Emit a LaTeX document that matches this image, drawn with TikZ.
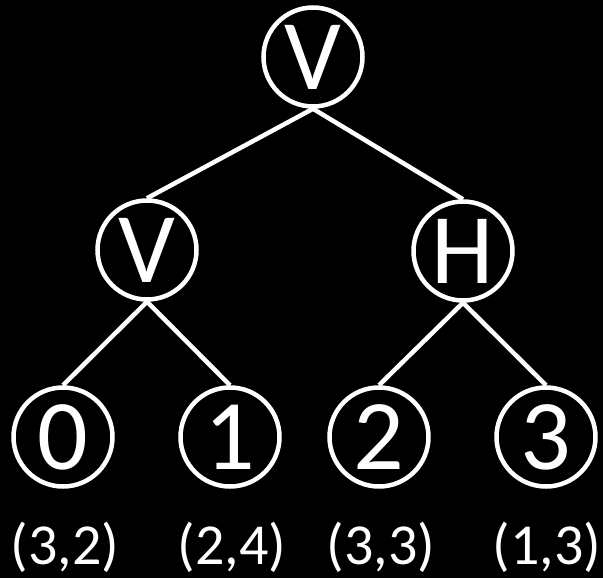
\documentclass[tikz,border=0pt]{standalone}
\usepackage{fontspec}
\setmainfont{Carlito}
\begin{document}
\begin{tikzpicture}[x=1pt,y=-1pt,
  treenode/.style={circle,draw=white,line width=4.5pt,minimum size=99pt,inner sep=0pt,
    text=white,font=\fontsize{100}{100}\selectfont},
  edge/.style={draw=white,line width=4.5pt},
  sizelabel/.style={text=white,inner sep=0pt,font=\fontsize{58}{58}\selectfont}]
  % black background fixes the page size
  \fill[black] (0,0) rectangle (603,578);
  \useasboundingbox (0,0) rectangle (603,578);

  \node[treenode] (r)  at (313,57)  {V};
  \node[treenode] (l)  at (147,250) {V};
  \node[treenode] (h)  at (463,251) {H};
  \node[treenode] (n0) at (63,437)  {0};
  \node[treenode] (n1) at (230,437) {1};
  \node[treenode] (n2) at (379,437) {2};
  \node[treenode] (n3) at (546,437) {3};

  \draw[edge] (r.south) -- (l.north);
  \draw[edge] (r.south) -- (h.north);
  \draw[edge] (l.south) -- (n0.north);
  \draw[edge] (l.south) -- (n1.north);
  \draw[edge] (h.south) -- (n2.north);
  \draw[edge] (h.south) -- (n3.north);

  \node[sizelabel] (s0) at (65,547)  {(3,2)};
  \node[sizelabel] (s1) at (232,547) {(2,4)};
  \node[sizelabel] (s2) at (381,547) {(3,3)};
  \node[sizelabel] (s3) at (547,547) {(1,3)};
\end{tikzpicture}
\end{document}
